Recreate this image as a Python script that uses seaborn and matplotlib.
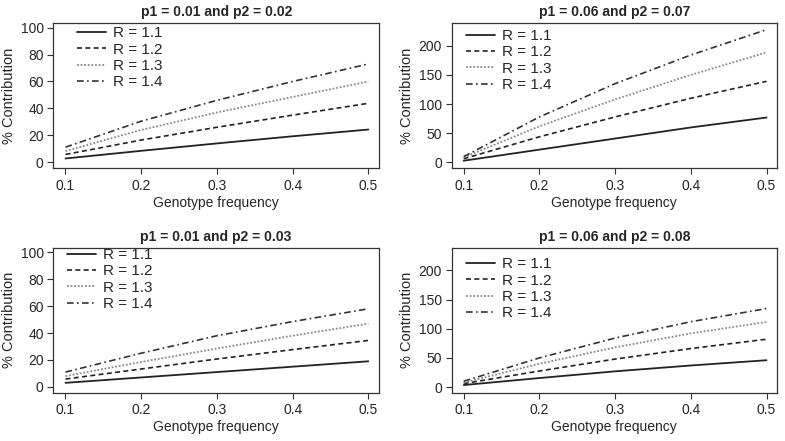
"""Four-panel % contribution vs genotype frequency, R base-graphics look."""
import matplotlib
matplotlib.use("Agg")
import matplotlib.pyplot as plt
import pandas as pd
import seaborn as sns

# genotype frequency on the x axis
freq = [0.1, 0.2, 0.3, 0.4, 0.5]
r_labels = ["R = 1.1", "R = 1.2", "R = 1.3", "R = 1.4"]
titles = ["p1 = 0.01 and p2 = 0.02", "p1 = 0.06 and p2 = 0.07",
          "p1 = 0.01 and p2 = 0.03", "p1 = 0.06 and p2 = 0.08"]

# % contribution, one list per R value
p001_002 = [[2.8, 8.5, 14.0, 19.3, 24.3],
            [5.8, 16.5, 26.0, 35.0, 43.8],
            [8.3, 24.0, 37.0, 48.5, 60.0],
            [11.2, 30.5, 46.0, 60.0, 73.0]]
p006_007 = [[3.0, 22.0, 41.0, 60.0, 77.0],
            [6.4, 44.0, 78.0, 110.0, 139.0],
            [8.7, 62.0, 108.0, 150.0, 188.5],
            [10.0, 78.0, 135.0, 184.0, 227.5]]
p001_003 = [[3.0, 7.0, 11.0, 15.0, 19.0],
            [5.8, 13.3, 20.7, 27.7, 34.5],
            [8.0, 18.5, 28.5, 38.0, 47.0],
            [11.0, 25.0, 38.0, 48.5, 58.0]]
p006_008 = [[3.5, 15.5, 27.0, 37.0, 46.0],
            [6.0, 27.6, 48.0, 66.0, 82.0],
            [7.5, 40.0, 68.0, 92.0, 111.5],
            [10.0, 50.0, 84.0, 112.0, 134.5]]

panels = [p001_002, p006_007, p001_003, p006_008]
ylims = [(-4.5, 103.5), (-10, 239), (-4.5, 103.5), (-10, 239)]
yticks = [range(0, 101, 20), range(0, 201, 50), range(0, 101, 20), range(0, 201, 50)]
# legend anchor (axes fraction) per panel
legend_xy = [(0.045, 1.04), (0.015, 1.02), (0.015, 1.06), (0.015, 0.995)]

# R lty 1..4: solid, dashed, dotted, dotdash
styles = [("#222222", "-", 1.3), ("#222222", (0, (3, 2)), 1.2),
          ("#8a8a8a", (0, (1, 1)), 1.3), ("#333333", (0, (4, 2, 1, 2)), 1.2)]

sns.set_style("ticks")
plt.rcParams["font.family"] = ["Liberation Sans", "DejaVu Sans"]

fig, axes = plt.subplots(2, 2, figsize=(7.85, 4.41), dpi=100)
fig.subplots_adjust(left=0.068, right=0.99, top=0.948, bottom=0.109, wspace=0.223, hspace=0.545)

for ax, title, series, ylim, ticks, lxy in zip(axes.flat, titles, panels, ylims, yticks, legend_xy):
    for label, vals, (color, ls, lw) in zip(r_labels, series, styles):
        df = pd.DataFrame({"freq": freq, "pct": vals})
        sns.lineplot(data=df, x="freq", y="pct", ax=ax, color=color, linestyle=ls,
                     linewidth=lw, label=label)
    ax.set_xlim(0.084, 0.514)
    ax.set_ylim(*ylim)
    ax.set_xticks(freq)
    ax.set_xticklabels([f"{f:.1f}" for f in freq])
    ax.set_yticks(list(ticks))
    ax.set_title(title, fontsize=10, fontweight="bold", pad=5)
    ax.set_xlabel("Genotype frequency", fontsize=10, labelpad=2)
    ax.set_ylabel("% Contribution", fontsize=10.5, labelpad=3)
    ax.tick_params(labelsize=10, length=4, width=0.8, color="#333333", pad=3)
    ax.tick_params(axis="x", pad=3.5)
    for spine in ax.spines.values():
        spine.set_visible(True)
        spine.set_color("#333333")
        spine.set_linewidth(0.9)
    ax.legend(loc="upper left", bbox_to_anchor=lxy, frameon=False, fontsize=11,
              handlelength=1.9, handletextpad=0.45, labelspacing=0.15, borderaxespad=0.2)

fig.savefig("out.png", dpi=100)
